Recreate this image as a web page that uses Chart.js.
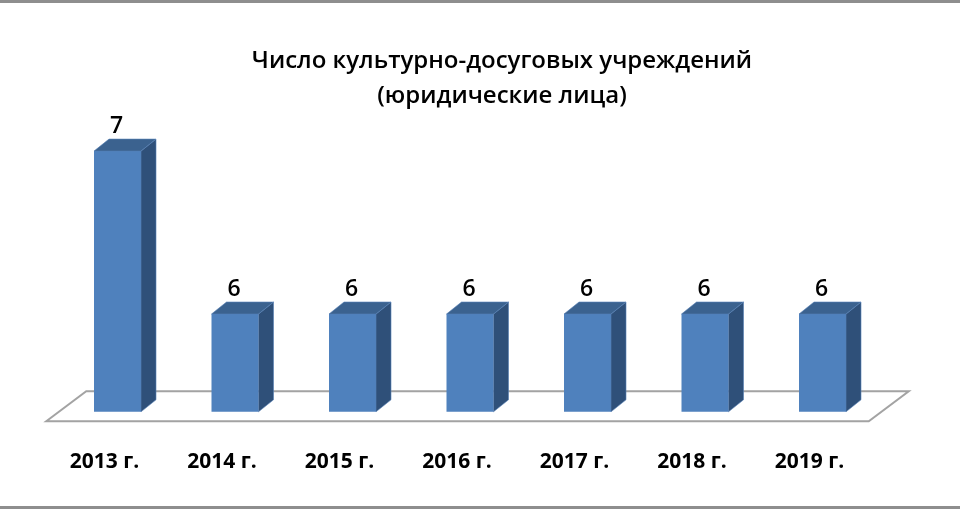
<!DOCTYPE html>
<html>
<head>
<meta charset="utf-8">
<style>
  html, body { margin: 0; padding: 0; background: #fff; }
  #wrap { width: 960px; height: 510px; }
</style>
<script src="https://cdn.jsdelivr.net/npm/chart.js@4/dist/chart.umd.min.js"></script>
</head>
<body>
<div id="wrap"><canvas id="chart" width="960" height="510"></canvas></div>
<script>
var years = ['2013 г.', '2014 г.', '2015 г.', '2016 г.', '2017 г.', '2018 г.', '2019 г.'];
var counts = [7, 6, 6, 6, 6, 6, 6];
var titleLines = ['Число культурно-досуговых учреждений', '(юридические лица)'];

var fontFamily = '"Open Sans", "Noto Sans", sans-serif';
var depthX = 15, depthY = 12;

// page rules at the top and bottom of the picture
var framePlugin = {
  id: 'frame',
  beforeDraw: function (chart) {
    var ctx = chart.ctx;
    ctx.save();
    ctx.fillStyle = '#fff';
    ctx.fillRect(0, 0, chart.width, chart.height);
    ctx.fillStyle = '#8e8e8e';
    ctx.fillRect(0, 0, chart.width, 3);
    ctx.fillRect(0, 506, chart.width, 3);
    ctx.restore();
  }
};

// title sits right of the plot centre in the original
var titleShiftPlugin = {
  id: 'titleShift',
  afterLayout: function (chart) {
    chart.titleBlock.left += 32;
    chart.titleBlock.right += 32;
  }
};

// the 3d floor under the bars
var floorPlugin = {
  id: 'floor',
  beforeDatasetsDraw: function (chart) {
    var ctx = chart.ctx, area = chart.chartArea;
    var frontY = area.bottom + 9.5, backY = area.bottom - 20.5;
    ctx.save();
    ctx.beginPath();
    ctx.moveTo(area.left - 12.5, frontY);
    ctx.lineTo(area.left + 27.5, backY);
    ctx.lineTo(area.right + 27.5, backY);
    ctx.lineTo(area.right - 12.5, frontY);
    ctx.closePath();
    ctx.fillStyle = '#fff';
    ctx.fill();
    ctx.strokeStyle = '#a3a3a3';
    ctx.lineWidth = 2;
    ctx.stroke();
    ctx.restore();
  }
};

// side and top faces of each bar, plus the value above it
var bar3dPlugin = {
  id: 'bar3d',
  afterDatasetsDraw: function (chart) {
    var ctx = chart.ctx;
    var bars = chart.getDatasetMeta(0).data;
    var floorY = chart.chartArea.bottom; // bars start below the cut-off axis
    ctx.save();
    bars.forEach(function (bar, i) {
      var left = bar.x - bar.width / 2, right = bar.x + bar.width / 2;

      ctx.strokeStyle = '#5580b5';
      ctx.lineWidth = 0.6;

      ctx.beginPath();
      ctx.moveTo(right, bar.y);
      ctx.lineTo(right + depthX, bar.y - depthY);
      ctx.lineTo(right + depthX, floorY - depthY);
      ctx.lineTo(right, floorY);
      ctx.closePath();
      ctx.fillStyle = '#2f5079';
      ctx.fill();
      ctx.stroke();

      ctx.beginPath();
      ctx.moveTo(left, bar.y);
      ctx.lineTo(left + depthX, bar.y - depthY);
      ctx.lineTo(right + depthX, bar.y - depthY);
      ctx.lineTo(right, bar.y);
      ctx.closePath();
      ctx.fillStyle = '#3b628f';
      ctx.fill();
      ctx.stroke();

      ctx.fillStyle = '#000';
      ctx.font = '600 23px ' + fontFamily;
      ctx.textAlign = 'center';
      ctx.textBaseline = 'middle';
      ctx.fillText(String(counts[i]), bar.x - 1, bar.y - 25);
    });
    ctx.restore();
  }
};

new Chart(document.getElementById('chart'), {
  type: 'bar',
  data: {
    labels: years,
    datasets: [{
      data: counts,
      backgroundColor: '#4f81bd',
      borderWidth: 0,
      categoryPercentage: 1,
      barPercentage: 0.4
    }]
  },
  plugins: [framePlugin, titleShiftPlugin, floorPlugin, bar3dPlugin],
  options: {
    responsive: false,
    animation: false,
    layout: { padding: { left: 58.75, right: 78.75, top: 0, bottom: 6 } },
    plugins: {
      legend: { display: false },
      tooltip: { enabled: false },
      title: {
        display: true,
        text: titleLines,
        color: '#000',
        font: { family: fontFamily, size: 24, weight: '600', lineHeight: 1.46 },
        padding: { top: 44, bottom: 37 }
      }
    },
    scales: {
      x: {
        grid: { display: false },
        border: { display: false },
        ticks: {
          color: '#000',
          font: { family: fontFamily, size: 21, weight: '700' },
          padding: 29.5,
          labelOffset: -13,
          maxRotation: 0
        }
      },
      y: {
        display: false,
        min: 5.4,
        max: 7
      }
    }
  }
});
</script>
</body>
</html>
